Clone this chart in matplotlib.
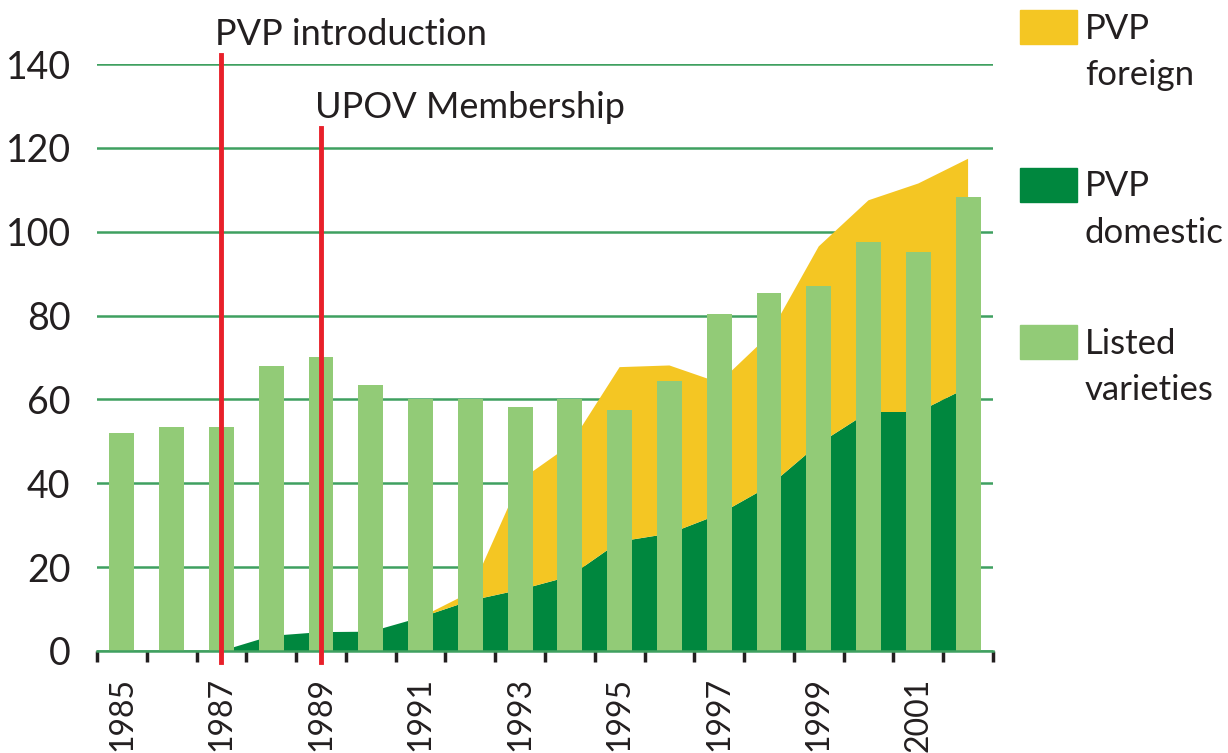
import numpy as np
import matplotlib.pyplot as plt
from matplotlib.patches import Rectangle

# --- data ---
years = list(range(1985, 2003))
listed = [52.0, 53.4, 53.4, 67.9, 70.2, 63.5, 60.0, 60.0, 58.1, 60.0,
          57.4, 64.3, 80.4, 85.3, 87.0, 97.6, 95.1, 108.3]
pvp_domestic = [0, 0, 0, 3.6, 4.5, 4.6, 8.0, 12.0, 14.6, 17.8,
                26.1, 28.0, 32.6, 39.3, 49.4, 57.0, 57.0, 62.9]
pvp_foreign = [0, 0, 0, 0, 0, 0, 0, 2.0, 26.1, 31.3,
               41.6, 40.1, 31.4, 36.0, 47.1, 50.5, 54.5, 54.5]
events = [(1987, "PVP introduction"), (1989, "UPOV Membership")]
event_tops = [142.1, 124.7]
event_text_y = [144.5, 127.1]

YELLOW = "#F4C623"
DARK_GREEN = "#00873E"
LIGHT_GREEN = "#92CB77"
GRID_GREEN = "#3FA060"
RED = "#E8202A"
TXT = "#231F20"

plt.rcParams['font.family'] = ['Lato', 'DejaVu Sans']
FS = 26

fig = plt.figure(figsize=(12.28, 7.53), dpi=100)
ax = fig.add_axes([0.079, 0.1355, 0.7296, 0.7795])

x = np.arange(len(years))

# stacked areas (domestic below, foreign on top)
ax.stackplot(x, pvp_domestic, pvp_foreign, colors=[DARK_GREEN, YELLOW],
             linewidth=0, zorder=2)
# listed varieties bars
ax.bar(x, listed, width=0.5, color=LIGHT_GREEN, zorder=3)

# event lines
for (yr, label), top, ty in zip(events, event_tops, event_text_y):
    xi = years.index(yr)
    ax.plot([xi, xi], [-2.6, top], color=RED, lw=3.5, zorder=5, clip_on=False)
    ax.text(xi - 0.12, ty, label, fontsize=FS, ha='left', va='baseline',
            color=TXT, clip_on=False)

ax.set_xlim(-0.5, len(years) - 0.5)
ax.set_ylim(0, 140)
ax.set_yticks(range(0, 141, 20))
ax.yaxis.grid(True, color=GRID_GREEN, lw=1.8, zorder=0)
ax.set_axisbelow(True)
ax.tick_params(axis='y', length=0, pad=19, labelsize=27, labelcolor=TXT)

# ticks at category boundaries, labels every second year
ax.set_xticks(np.arange(-0.5, len(years), 1.0))
ax.set_xticklabels([])
ax.tick_params(axis='x', which='major', length=8, width=2.5, color=TXT,
               direction='out')
ax.set_xticks(x[::2], minor=True)
ax.set_xticklabels([str(y) for y in years[::2]], minor=True, rotation=90,
                   fontsize=23, color=TXT)
ax.tick_params(axis='x', which='minor', length=0, pad=19)

for s in ['top', 'right', 'left']:
    ax.spines[s].set_visible(False)
ax.spines['bottom'].set_color(GRID_GREEN)
ax.spines['bottom'].set_linewidth(1.8)
ax.spines['bottom'].set_zorder(4)

# legend on the right
legend_items = [(YELLOW, "PVP\nforeign"), (DARK_GREEN, "PVP\ndomestic"),
                (LIGHT_GREEN, "Listed\nvarieties")]
W, H = 1228, 753
for i, (col, lab) in enumerate(legend_items):
    top_px = 10 + i * 157.5
    fig.patches.append(Rectangle((1020 / W, 1 - (top_px + 34) / H), 57 / W, 34 / H,
                                 transform=fig.transFigure, color=col))
    fig.text(1085 / W, 1 - (top_px + 3) / H, lab, fontsize=25, ha='left',
             va='top', linespacing=1.55, color=TXT)

fig.savefig("out.png", dpi=100)
